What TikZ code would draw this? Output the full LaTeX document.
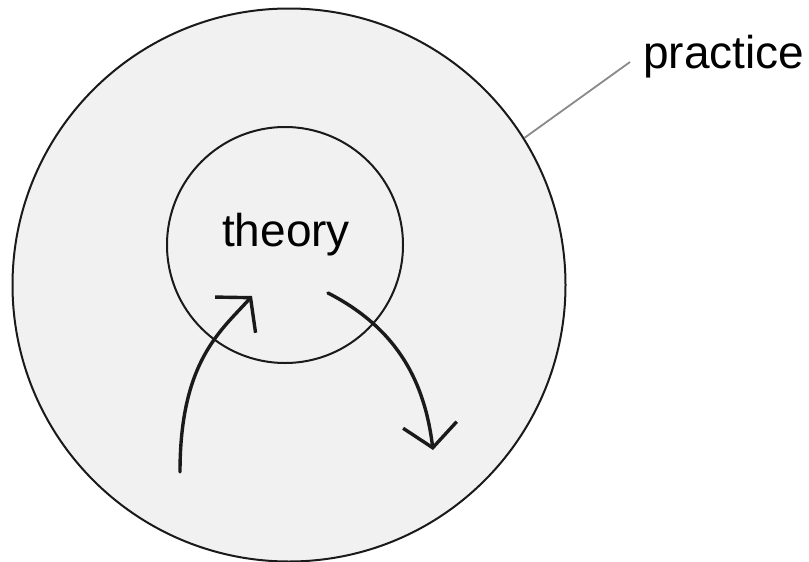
\documentclass[tikz,border=0pt]{standalone}
\usepackage{fontspec}
\setmainfont{Liberation Sans}
\usetikzlibrary{arrows.meta}
\definecolor{ringfill}{HTML}{F1F1F1}
\definecolor{inkline}{HTML}{1A1A1A}
\definecolor{leadergray}{HTML}{8A8A8A}
\begin{document}
\begin{tikzpicture}[x=1pt,y=-1pt,
  ring/.style={circle,draw=inkline,line width=2pt,inner sep=0pt},
  label/.style={inner sep=0pt,font=\fontsize{46}{50}\selectfont},
  cyclearrow/.style={draw=inkline,line width=3.4pt,line cap=round,
    -{Straight Barb[length=23pt,width=54pt,line width=3.4pt]}}]
\useasboundingbox[fill=white] (0,0) rectangle (809,562);
\node[ring,fill=ringfill,minimum size=553pt] (practiceC) at (289,285) {};
\node[ring,fill=ringfill,minimum size=236pt] (theoryC) at (285,245) {};
\node[label,anchor=base] (theory) at (286,246) {theory};
\node[label,anchor=base west] (practice) at (643,68) {practice};
\coordinate (leadend) at (630,62);
\draw[leadergray,line width=1.8pt] (practiceC.32) -- (leadend);
\coordinate (upstart) at (180,472);
\coordinate (upend) at (252,296);
\coordinate (downstart) at (328,293);
\coordinate (downend) at (433,450);
\draw[cyclearrow] (upstart) .. controls (180,360) and (222,330) .. (upend);
\draw[cyclearrow] (downstart) .. controls (400,330) and (425,385) .. (downend);
\end{tikzpicture}
\end{document}
